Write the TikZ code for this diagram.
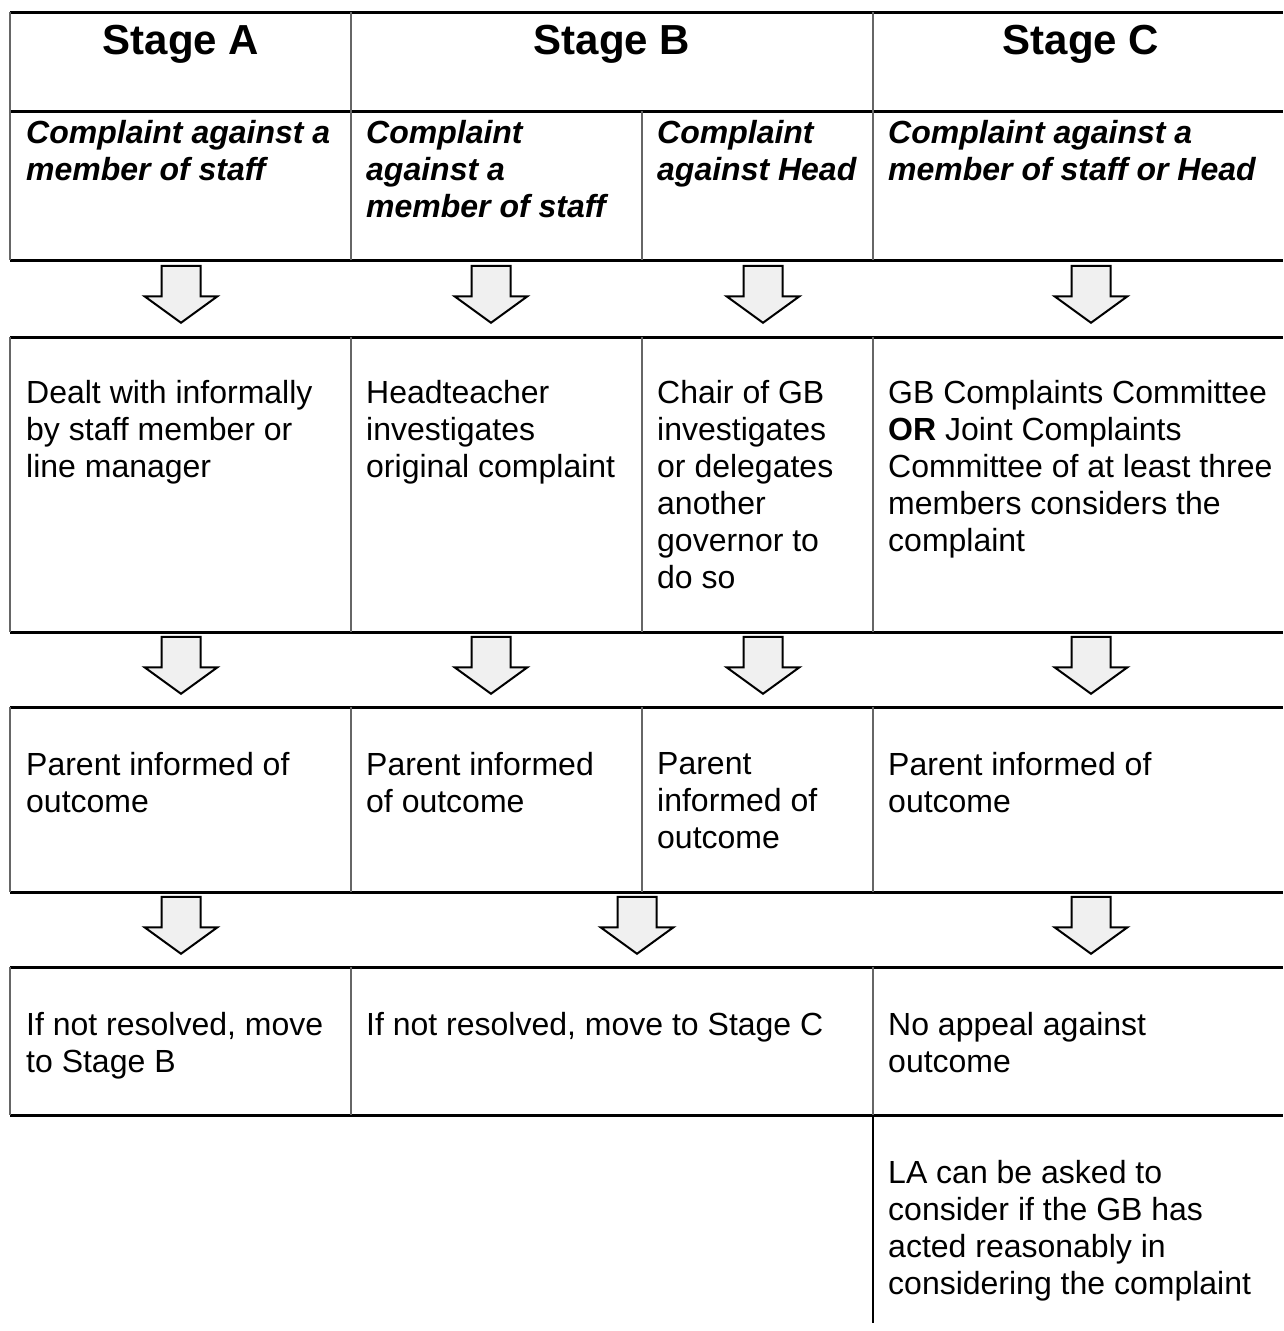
\documentclass[tikz,border=0pt]{standalone}
\usepackage{fontspec}
\setmainfont{Liberation Sans}
\usetikzlibrary{shapes.arrows}

\begin{document}
\begin{tikzpicture}[x=1pt,y=-1pt,
  hrule/.style={line width=3pt},
  vrule/.style={line width=1.5pt,black!60},
  stage/.style={anchor=base,inner sep=0,font=\fontsize{42}{48}\selectfont\bfseries},
  sub/.style={anchor=north west,align=left,inner sep=0,font=\fontsize{32}{37}\selectfont\bfseries\itshape},
  cell/.style={anchor=north west,align=left,inner sep=0,font=\fontsize{32}{37}\selectfont},
  downarr/.style={single arrow,draw,line width=2pt,fill=black!6,rotate=-90,anchor=tip,
    minimum height=57pt,inner xsep=0,inner ysep=18.5pt,single arrow head extend=17pt,
    single arrow tip angle=108}]
  \useasboundingbox (0,0) rectangle (1283,1331);
  %rules
  \foreach \y in {12,111,260,337,632,707,892,967,1115}
    \draw[hrule] (10,\y) -- (1283,\y);
  \foreach \x in {10,351,873} \draw[vrule] (\x,12) -- (\x,260);
  \draw[vrule] (642,111) -- (642,260);
  \foreach \x in {10,351,642,873} {
    \draw[vrule] (\x,337) -- (\x,632);
    \draw[vrule] (\x,707) -- (\x,892);
  }
  \foreach \x in {10,351,873} \draw[vrule] (\x,967) -- (\x,1115);
  \draw[line width=2pt] (873,1115) -- (873,1323);
  %headings
  \node[stage] (stA) at (181,54) {Stage A};
  \node[stage] (stB) at (612,54) {Stage B};
  \node[stage] (stC) at (1081,54) {Stage C};
  \node[sub] (subA) at (26,120) {Complaint against a\\member of staff};
  \node[sub] (subB) at (366,120) {Complaint\\against a\\member of staff};
  \node[sub] (subH) at (657,120) {Complaint\\against Head};
  \node[sub] (subC) at (888,120) {Complaint against a\\member of staff or Head};
  %cells
  \node[cell] (dealA) at (26,380) {Dealt with informally\\by staff member or\\line manager};
  \node[cell] (dealB) at (366,380) {Headteacher\\investigates\\original complaint};
  \node[cell] (dealH) at (657,380) {Chair of GB\\investigates\\or delegates\\another\\governor to\\do so};
  \node[cell] (dealC) at (888,380) {GB Complaints Committee\\\textbf{OR} Joint Complaints\\Committee of at least three\\members considers the\\complaint};
  \node[cell] (infA) at (26,752) {Parent informed of\\outcome};
  \node[cell] (infB) at (366,752) {Parent informed\\of outcome};
  \node[cell] (infH) at (657,752) {Parent\\informed of\\outcome};
  \node[cell] (infC) at (888,752) {Parent informed of\\outcome};
  \node[cell] (resA) at (26,1012) {If not resolved, move\\to Stage B};
  \node[cell] (resB) at (366,1012) {If not resolved, move to Stage C};
  \node[cell] (resC) at (888,1012) {No appeal against\\outcome};
  \node[cell] (la) at (888,1160) {LA can be asked to\\consider if the GB has\\acted reasonably in\\considering the complaint};
  %arrows
  \node[downarr] (arA1) at (181,324) {};
  \node[downarr] (arB1) at (491,324) {};
  \node[downarr] (arH1) at (763,324) {};
  \node[downarr] (arC1) at (1091,324) {};
  \node[downarr] (arA2) at (181,695) {};
  \node[downarr] (arB2) at (491,695) {};
  \node[downarr] (arH2) at (763,695) {};
  \node[downarr] (arC2) at (1091,695) {};
  \node[downarr] (arA3) at (181,955) {};
  \node[downarr] (arB3) at (637,955) {};
  \node[downarr] (arC3) at (1091,955) {};
\end{tikzpicture}
\end{document}
